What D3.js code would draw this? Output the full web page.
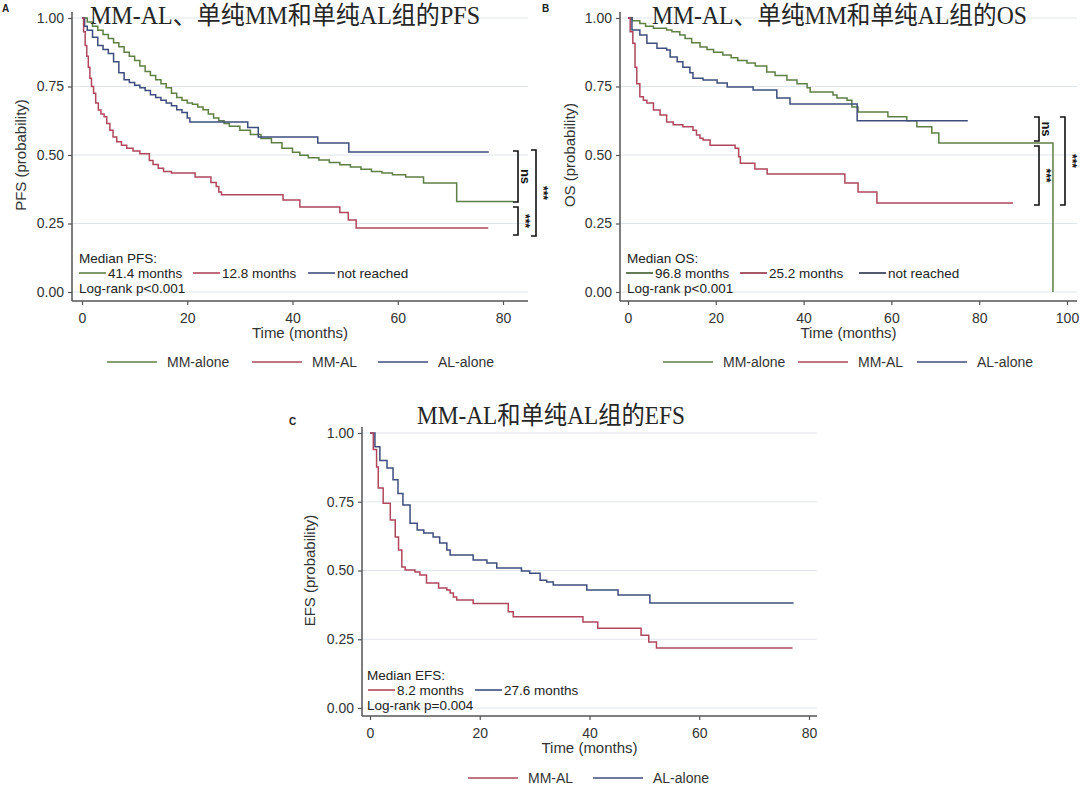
<!DOCTYPE html>
<html><head><meta charset="utf-8">
<script src="https://cdn.jsdelivr.net/npm/d3@7"></script>
<style>
body{margin:0;background:#fff}
svg{display:block}
text{font-family:"Liberation Sans",Arial,sans-serif;fill:#333}
</style>
</head><body>
<svg id="chart" width="1080" height="791"></svg>
<script>
// ---------------- DATA ----------------
const yTicks = [0, 0.25, 0.5, 0.75, 1];
const xTicksA = [0, 20, 40, 60, 80];
const xTicksB = [0, 20, 40, 60, 80, 100];
const xTicksC = [0, 20, 40, 60, 80];

const titles = ["MM-AL、单纯MM和单纯AL组的PFS", "MM-AL、单纯MM和单纯AL组的OS", "MM-AL和单纯AL组的EFS"];
const yLabels = ["PFS (probability)", "OS (probability)", "EFS (probability)"];
const groupNames = ["MM-alone", "MM-AL", "AL-alone"];
const medianA = ["41.4 months", "12.8 months", "not reached"];
const medianB = ["96.8 months", "25.2 months", "not reached"];
const medianC = ["8.2 months", "27.6 months"];

// Panel A: PFS
const pfsMMaloneT = [0,1,2,3,4,5,6,7,8,9,10,11,12,13,14,15,16,17,18,19,20,21,22,23,24,25,26,27,28,30,32,34,36,38,40,41.4,43,45,47,49,51,53,55,57,59,61.5,64.9,71.2,82];
const pfsMMaloneS = [1,0.985,0.97,0.955,0.94,0.925,0.91,0.895,0.875,0.86,0.845,0.825,0.805,0.79,0.775,0.76,0.745,0.725,0.71,0.70,0.69,0.685,0.675,0.665,0.65,0.635,0.625,0.615,0.605,0.59,0.575,0.56,0.545,0.525,0.51,0.499,0.49,0.482,0.473,0.464,0.456,0.448,0.44,0.434,0.428,0.42,0.398,0.33,0.33];
const pfsMMALT = [0,0.3,0.6,0.9,1.2,1.5,1.8,2.2,2.6,3.1,3.6,4.2,4.7,5.3,5.9,6.6,7.5,8.5,9.7,11,12.8,13.5,14.5,15.5,17,21.5,24.5,25.5,26,26.5,38.2,41.4,49,50.6,52.1,77.2];
const pfsMMALS = [1,0.95,0.9,0.86,0.82,0.78,0.75,0.725,0.69,0.664,0.65,0.64,0.615,0.59,0.566,0.548,0.536,0.525,0.515,0.505,0.48,0.465,0.452,0.44,0.434,0.42,0.40,0.385,0.365,0.355,0.336,0.31,0.29,0.263,0.234,0.234];
const pfsALaloneT = [0,0.5,1,2,3,4,5,6,7,8,9,10,11,12,13,14,15,16,17,18,19,20,20.5,31.5,33.5,44.8,50.7,77.3];
const pfsALaloneS = [1,0.97,0.955,0.93,0.9,0.885,0.87,0.84,0.80,0.775,0.765,0.755,0.745,0.735,0.72,0.71,0.70,0.69,0.68,0.665,0.655,0.635,0.62,0.60,0.566,0.544,0.511,0.511];

// Panel B: OS
const osMMaloneT = [0,1,2.7,4,5.8,8.8,10,11.8,13,14.5,16.4,18,19.5,21.6,23.5,25,27.1,29,31.6,33.5,36.2,38.5,40.8,41.5,46.7,47.6,49.9,51,52.4,59.2,63.5,65.8,69.2,70.8,96.8];
const osMMaloneS = [1,0.99,0.98,0.97,0.963,0.956,0.95,0.938,0.925,0.91,0.894,0.885,0.875,0.865,0.855,0.845,0.836,0.825,0.803,0.79,0.774,0.76,0.745,0.73,0.719,0.708,0.70,0.675,0.657,0.64,0.625,0.603,0.58,0.544,0];
const osMMALT = [0,0.5,1.1,1.6,2,2.7,3.5,4.3,5.8,7.3,8.8,10.3,12.5,14.8,15.6,16.4,17.1,18.7,24.4,25.2,25.6,28.9,31.7,49.4,52.4,56.7,87.7];
const osMMALS = [1,0.95,0.908,0.82,0.76,0.713,0.70,0.69,0.664,0.646,0.62,0.61,0.603,0.59,0.573,0.561,0.555,0.536,0.525,0.494,0.47,0.449,0.431,0.398,0.365,0.325,0.325];
const osALaloneT = [0,0.9,2.7,4.3,6.6,8.8,9.6,11.2,12.5,14.1,14.8,17.1,20.3,22.6,28.5,33.9,36.9,52.2,77.4];
const osALaloneS = [1,0.956,0.938,0.908,0.89,0.883,0.858,0.84,0.82,0.80,0.78,0.774,0.763,0.748,0.737,0.708,0.686,0.625,0.625];

// Panel C: EFS
const efsMMALT = [0,0.6,1.2,1.5,2.4,3.7,4.6,5.2,5.8,6.4,8.2,9.1,10.3,12.5,14,14.6,15.2,15.8,18.8,25.2,26.1,38.8,41.5,49.4,50.8,52.2,77];
const efsMMALS = [1,0.94,0.876,0.80,0.745,0.684,0.622,0.575,0.513,0.502,0.495,0.484,0.455,0.436,0.429,0.418,0.404,0.393,0.38,0.35,0.332,0.313,0.29,0.265,0.24,0.218,0.218];
const efsALaloneT = [0,0.9,1.8,3.1,4.2,5.1,6,7.3,8.6,9.8,11.5,12.7,14,14.6,18.8,21.3,23.1,27.6,29.1,31,32.2,33.4,39.5,45.2,51,77.2];
const efsALaloneS = [1,0.95,0.90,0.873,0.83,0.78,0.738,0.672,0.647,0.636,0.622,0.60,0.575,0.556,0.538,0.527,0.509,0.498,0.49,0.465,0.458,0.447,0.429,0.411,0.382,0.382];

// ---------------- DRAW ----------------
const COL = {green:"#5e7f45", red:"#b0475c", blue:"#3e4d7d"};
const svg = d3.select("#chart");
const pts = (T,S) => T.map((t,i)=>[t,S[i]]);

function panel(cfg){
  const g = svg.append("g");
  const x = d3.scaleLinear().domain(cfg.xDomain).range(cfg.xRange);
  const y = d3.scaleLinear().domain([0,1]).range(cfg.yRange);

  // grid
  g.selectAll("line.grid").data(yTicks).join("line")
    .attr("x1", cfg.left).attr("x2", cfg.right)
    .attr("y1", d=>y(d)).attr("y2", d=>y(d))
    .attr("stroke", "#dfe6eb").attr("stroke-width", 1);

  // axes
  const ya = g.append("g").attr("transform", `translate(${cfg.left},0)`)
    .call(d3.axisLeft(y).tickValues(yTicks).tickFormat(d3.format(".2f")).tickSize(4).tickPadding(4));
  const xa = g.append("g").attr("transform", `translate(0,${cfg.bottom})`)
    .call(d3.axisBottom(x).tickValues(cfg.xTicks).tickSize(4).tickPadding(8));
  [ya, xa].forEach(a=>{
    a.select(".domain").remove();
    a.selectAll(".tick line").attr("stroke","#555").attr("stroke-width",1.2);
    a.selectAll(".tick text").attr("font-size",14).style("fill","#333")
      .attr("font-family","Liberation Sans, Arial, sans-serif");
  });
  g.append("line").attr("x1",cfg.left).attr("x2",cfg.left).attr("y1",cfg.top).attr("y2",cfg.bottom)
    .attr("stroke","#555").attr("stroke-width",1.5);
  g.append("line").attr("x1",cfg.left).attr("x2",cfg.right).attr("y1",cfg.bottom).attr("y2",cfg.bottom)
    .attr("stroke","#555").attr("stroke-width",1.5);

  // axis titles
  g.append("text").attr("x",(cfg.left+cfg.right)/2).attr("y",cfg.bottom+37)
    .attr("text-anchor","middle").attr("font-size",15).text("Time (months)");
  g.append("text").attr("transform",`translate(${cfg.yLabelX},${(y(0)+y(1))/2}) rotate(-90)`)
    .attr("text-anchor","middle").attr("dominant-baseline","central").attr("font-size",15).text(cfg.yLabel);

  // curves
  const line = d3.line().x(d=>x(d[0])).y(d=>y(d[1])).curve(d3.curveStepAfter);
  cfg.series.forEach(s=>{
    g.append("path").datum(s.data).attr("d",line).attr("fill","none")
      .attr("stroke",s.color).attr("stroke-width",1.5);
  });

  // title
  g.append("text").attr("x",cfg.titleX).attr("y",cfg.titleY)
    .attr("font-size",25).attr("textLength",cfg.titleW).attr("lengthAdjust","spacingAndGlyphs")
    .style("font-family","'Liberation Serif','Noto Sans CJK SC',serif").style("fill","#262626")
    .text(cfg.title);
  // panel letter
  g.append("text").attr("x",cfg.letterX).attr("y",cfg.letterY).attr("font-size",10)
    .attr("font-weight","bold").style("fill","#222").text(cfg.letter);

  // inside annotation
  const a = cfg.ann;
  g.append("text").attr("x",a.x).attr("y",a.y0).attr("font-size",13.5).style("fill","#222").text(a.head);
  a.items.forEach(it=>{
    g.append("line").attr("x1",it.lx).attr("x2",it.lx+27).attr("y1",a.y1-5).attr("y2",a.y1-5)
      .attr("stroke",it.color).attr("stroke-width",1.6);
    g.append("text").attr("x",it.lx+29).attr("y",a.y1).attr("font-size",13.5).style("fill","#222").text(it.text);
  });
  g.append("text").attr("x",a.x).attr("y",a.y2).attr("font-size",13.5).style("fill","#222").text(a.foot);

  // legend
  cfg.legend.forEach(l=>{
    g.append("line").attr("x1",l.lx).attr("x2",l.lx+50).attr("y1",cfg.legendY).attr("y2",cfg.legendY)
      .attr("stroke",l.color).attr("stroke-width",1.3);
    g.append("text").attr("x",l.lx+60).attr("y",cfg.legendY+5).attr("font-size",14).text(l.text);
  });

  // brackets
  (cfg.brackets||[]).forEach(b=>{
    g.append("path").attr("d",`M${b.x-5},${b.y1}H${b.x}V${b.y2}H${b.x-5}`)
      .attr("fill","none").attr("stroke","#111").attr("stroke-width",1.6);
    g.append("text").attr("transform",`translate(${b.x+7},${(b.y1+b.y2)/2}) rotate(90)`)
      .attr("text-anchor","middle").attr("dominant-baseline","central")
      .attr("font-size",b.label==="ns"?13:12).attr("font-weight","bold").style("fill","#111").text(b.label);
  });
}

// Panel A
panel({
  left:72, right:528, top:12, bottom:301,
  xDomain:[0,80], xRange:[82,503], yRange:[292,18], xTicks:xTicksA,
  yLabel:yLabels[0], yLabelX:20,
  title:titles[0], titleX:90, titleY:24, titleW:390,
  letter:"A", letterX:2, letterY:12,
  series:[
    {data:pts(pfsMMaloneT,pfsMMaloneS), color:COL.green},
    {data:pts(pfsALaloneT,pfsALaloneS), color:COL.blue},
    {data:pts(pfsMMALT,pfsMMALS), color:COL.red}
  ],
  ann:{x:79, y0:263, y1:278, y2:293, head:"Median PFS:", foot:"Log-rank p<0.001",
    items:[{lx:79,color:COL.green,text:medianA[0]},{lx:193,color:COL.red,text:medianA[1]},{lx:308,color:COL.blue,text:medianA[2]}]},
  legendY:362,
  legend:[{lx:107,color:COL.green,text:groupNames[0]},{lx:252,color:COL.red,text:groupNames[1]},{lx:378,color:COL.blue,text:groupNames[2]}],
  brackets:[{x:518,y1:151,y2:202,label:"ns"},{x:518,y1:207,y2:235,label:"***"},{x:536,y1:150,y2:236,label:"***"}]
});

// Panel B
panel({
  left:620, right:1077, top:12, bottom:301,
  xDomain:[0,100], xRange:[628,1067], yRange:[292,18], xTicks:xTicksB,
  yLabel:yLabels[1], yLabelX:569,
  title:titles[1], titleX:652, titleY:24, titleW:375,
  letter:"B", letterX:542, letterY:12,
  series:[
    {data:pts(osMMaloneT,osMMaloneS), color:COL.green},
    {data:pts(osALaloneT,osALaloneS), color:COL.blue},
    {data:pts(osMMALT,osMMALS), color:COL.red}
  ],
  ann:{x:627, y0:263, y1:278, y2:293, head:"Median OS:", foot:"Log-rank p<0.001",
    items:[{lx:626,color:"#3d5a2c",text:medianB[0]},{lx:740,color:"#8e2f40",text:medianB[1]},{lx:859,color:"#26304f",text:medianB[2]}]},
  legendY:362,
  legend:[{lx:663,color:COL.green,text:groupNames[0]},{lx:798,color:COL.red,text:groupNames[1]},{lx:917,color:COL.blue,text:groupNames[2]}],
  brackets:[{x:1039,y1:117,y2:141,label:"ns"},{x:1039,y1:146,y2:205,label:"***"},{x:1065,y1:117,y2:205,label:"***"}]
});

// Panel C
panel({
  left:362, right:817, top:427, bottom:716,
  xDomain:[0,80], xRange:[370,809], yRange:[708,433], xTicks:xTicksC,
  yLabel:yLabels[2], yLabelX:309,
  title:titles[2], titleX:417, titleY:424, titleW:268,
  letter:"C", letterX:289, letterY:425,
  series:[
    {data:pts(efsALaloneT,efsALaloneS), color:COL.blue},
    {data:pts(efsMMALT,efsMMALS), color:COL.red}
  ],
  ann:{x:367, y0:680, y1:695, y2:710, head:"Median EFS:", foot:"Log-rank p=0.004",
    items:[{lx:368,color:COL.red,text:medianC[0]},{lx:475,color:COL.blue,text:medianC[1]}]},
  legendY:778,
  legend:[{lx:468,color:COL.red,text:groupNames[1]},{lx:593,color:COL.blue,text:groupNames[2]}],
  brackets:[]
});
</script>
</body></html>
